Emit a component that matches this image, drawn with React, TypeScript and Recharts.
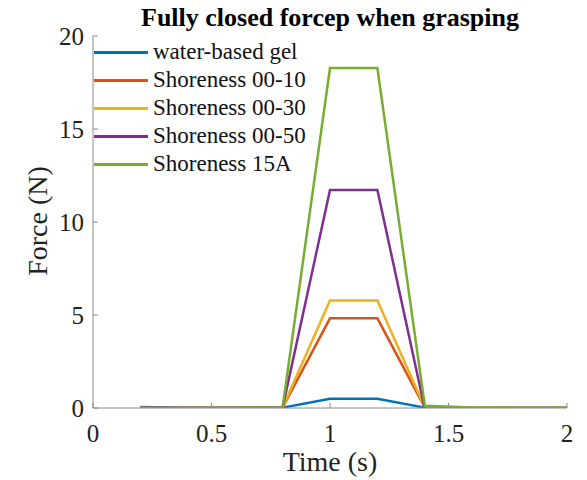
import React from "react";
import { LineChart, Line, XAxis, YAxis } from "recharts";

const time = [0.2, 0.4, 0.6, 0.8, 1.0, 1.2, 1.4, 1.6, 1.8, 2.0];
const waterGel = [0.05, 0.02, 0.01, 0.02, 0.5, 0.5, 0.02, 0.0, 0.0, 0.0];
const shore0010 = [0.0, 0.0, 0.0, 0.02, 4.82, 4.82, 0.02, 0.0, 0.0, 0.0];
const shore0030 = [0.0, 0.0, 0.0, 0.02, 5.78, 5.78, 0.02, 0.0, 0.0, 0.0];
const shore0050 = [0.0, 0.0, 0.0, 0.02, 11.72, 11.72, -0.05, -0.02, 0.0, 0.0];
const shore15A = [0.0, 0.0, 0.0, 0.03, 18.28, 18.28, 0.12, 0.03, 0.02, 0.02];

const xTicks = [0, 0.5, 1, 1.5, 2];
const yTicks = [0, 5, 10, 15, 20];

const seriesNames = ["water-based gel", "Shoreness 00-10", "Shoreness 00-30", "Shoreness 00-50", "Shoreness 15A"];
const seriesKeys = ["gel", "s10", "s30", "s50", "s15A"];
const seriesColors = ["#0072BD", "#D95319", "#EDB120", "#7E2F8E", "#77AC30"];
const seriesValues = [waterGel, shore0010, shore0030, shore0050, shore15A];

const data = time.map((t, i) => {
  const row: Record<string, number> = { t };
  seriesKeys.forEach((k, j) => {
    row[k] = seriesValues[j][i];
  });
  return row;
});

const FONT = "'Liberation Serif', 'Times New Roman', serif";
const AXIS_COLOR = "#8a8a8a";

export default function App() {
  return (
    <div style={{ position: "absolute", left: 0, top: 0, width: 587, height: 480, background: "#fff", fontFamily: FONT }}>
      <div
        style={{
          position: "absolute",
          left: 93,
          width: 474,
          top: 3,
          textAlign: "center",
          fontWeight: "bold",
          fontSize: 26,
          color: "#000",
          lineHeight: "30px",
          whiteSpace: "nowrap",
        }}
      >
        Fully closed forcep when grasping
      </div>
      <div
        style={{
          position: "absolute",
          left: 93,
          width: 474,
          top: 446,
          textAlign: "center",
          fontSize: 28,
          color: "#222",
          lineHeight: "32px",
        }}
      >
        Time (s)
      </div>
      <div
        style={{
          position: "absolute",
          left: 38,
          top: 221,
          transform: "translate(-50%, -50%) rotate(-90deg)",
          fontSize: 28,
          color: "#222",
          whiteSpace: "nowrap",
          lineHeight: "32px",
        }}
      >
        Force (N)
      </div>
      <div style={{ position: "absolute", left: 94, top: 38, zIndex: 2 }}>
        {seriesNames.map((n, i) => (
          <div key={n} style={{ display: "flex", alignItems: "center", height: 28 }}>
            <div style={{ width: 54, height: 3, background: seriesColors[i] }} />
            <span style={{ marginLeft: 5, fontSize: 23, color: "#111", lineHeight: "28px", whiteSpace: "nowrap" }}>{n}</span>
          </div>
        ))}
      </div>
      <div style={{ position: "absolute", left: 0, top: 0 }}>
        <LineChart width={587} height={480} data={data} margin={{ top: 36, right: 20, bottom: 32, left: 0 }}>
          <XAxis
            xAxisId="bottom"
            dataKey="t"
            type="number"
            domain={[0, 2]}
            ticks={xTicks}
            orientation="bottom"
            height={40}
            stroke={AXIS_COLOR}
            tickSize={-5}
            tickMargin={21}
            tick={{ fill: "#222", fontSize: 25, fontFamily: FONT }}
            tickFormatter={(v: number) => String(v)}
          />
          <XAxis
            xAxisId="top"
            dataKey="t"
            type="number"
            domain={[0, 2]}
            ticks={xTicks}
            orientation="top"
            height={0}
            stroke={AXIS_COLOR}
            tickSize={-5}
            tick={false}
          />
          <YAxis
            yAxisId="left"
            type="number"
            domain={[0, 20]}
            allowDataOverflow
            ticks={yTicks}
            width={93}
            stroke={AXIS_COLOR}
            tickSize={-5}
            tickMargin={14}
            tick={{ fill: "#222", fontSize: 25, fontFamily: FONT }}
          />
          <YAxis
            yAxisId="right"
            orientation="right"
            type="number"
            domain={[0, 20]}
            ticks={yTicks}
            width={0}
            stroke={AXIS_COLOR}
            tickSize={-5}
            tick={false}
          />
          {seriesKeys.map((k, i) => (
            <Line
              key={k}
              xAxisId="bottom"
              yAxisId="left"
              dataKey={k}
              stroke={seriesColors[i]}
              strokeWidth={2.5}
              dot={false}
              type="linear"
              isAnimationActive={false}
            />
          ))}
        </LineChart>
      </div>
    </div>
  );
}
